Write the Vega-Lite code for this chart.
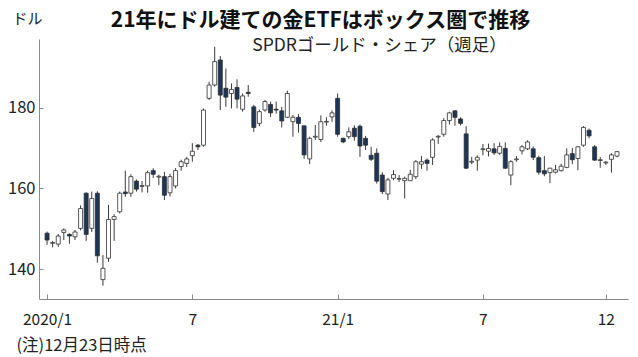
{
  "$schema": "https://vega.github.io/schema/vega-lite/v6.json",
  "width": 589,
  "height": 260,
  "autosize": "none",
  "padding": {"left": 39, "top": 39, "right": 10, "bottom": 58},
  "background": "white",
  "config": {
    "font": "Noto Sans CJK JP",
    "view": {"stroke": null},
    "axis": {"grid": false}
  },
  "title": {
    "text": "21年にドル建ての金ETFはボックス圏で推移",
    "fontSize": 21,
    "fontWeight": "bold",
    "font": "Noto Sans CJK JP",
    "color": "#111",
    "anchor": "middle",
    "frame": "group",
    "dx": -13,
    "dy": 28,
    "offset": 8
  },
  "datasets": {
    "gld": [
      {"week":"2020-01-06","open":148.9,"high":149.3,"low":146.0,"close":147.2},
      {"week":"2020-01-13","open":146.4,"high":147.0,"low":145.4,"close":146.6},
      {"week":"2020-01-20","open":146.2,"high":148.7,"low":145.5,"close":148.2},
      {"week":"2020-01-27","open":149.1,"high":150.1,"low":147.2,"close":149.7},
      {"week":"2020-02-03","open":148.6,"high":148.9,"low":146.3,"close":148.2},
      {"week":"2020-02-10","open":148.0,"high":149.7,"low":147.2,"close":149.2},
      {"week":"2020-02-17","open":150.1,"high":155.8,"low":149.6,"close":155.0},
      {"week":"2020-02-24","open":158.8,"high":159.0,"low":147.0,"close":148.6},
      {"week":"2020-03-02","open":150.1,"high":159.2,"low":149.2,"close":157.5},
      {"week":"2020-03-09","open":158.8,"high":159.3,"low":141.6,"close":143.3},
      {"week":"2020-03-16","open":137.4,"high":143.5,"low":135.9,"close":140.2},
      {"week":"2020-03-23","open":142.7,"high":155.9,"low":141.8,"close":152.3},
      {"week":"2020-03-30","open":152.3,"high":153.6,"low":147.0,"close":153.0},
      {"week":"2020-04-06","open":154.2,"high":159.2,"low":153.8,"close":158.8},
      {"week":"2020-04-13","open":159.1,"high":164.4,"low":157.9,"close":158.7},
      {"week":"2020-04-20","open":158.8,"high":163.5,"low":157.9,"close":162.9},
      {"week":"2020-04-27","open":161.8,"high":162.2,"low":159.2,"close":159.8},
      {"week":"2020-05-04","open":160.5,"high":161.8,"low":159.0,"close":160.7},
      {"week":"2020-05-11","open":160.6,"high":164.4,"low":158.9,"close":163.9},
      {"week":"2020-05-18","open":164.4,"high":165.0,"low":162.6,"close":163.5},
      {"week":"2020-05-25","open":162.8,"high":163.4,"low":160.8,"close":163.0},
      {"week":"2020-06-01","open":162.9,"high":164.1,"low":157.1,"close":158.3},
      {"week":"2020-06-08","open":158.9,"high":163.6,"low":158.0,"close":162.9},
      {"week":"2020-06-15","open":160.6,"high":165.0,"low":160.0,"close":164.4},
      {"week":"2020-06-22","open":165.4,"high":167.1,"low":164.4,"close":166.6},
      {"week":"2020-06-29","open":166.2,"high":167.8,"low":165.3,"close":167.3},
      {"week":"2020-07-06","open":168.1,"high":171.2,"low":166.6,"close":169.2},
      {"week":"2020-07-13","open":170.7,"high":171.0,"low":169.5,"close":170.3},
      {"week":"2020-07-20","open":170.7,"high":179.8,"low":170.3,"close":179.4},
      {"week":"2020-07-27","open":182.3,"high":186.4,"low":181.9,"close":185.6},
      {"week":"2020-08-03","open":185.6,"high":195.1,"low":185.2,"close":191.4},
      {"week":"2020-08-10","open":191.8,"high":192.8,"low":179.4,"close":183.1},
      {"week":"2020-08-17","open":184.8,"high":189.7,"low":180.2,"close":182.6},
      {"week":"2020-08-24","open":183.5,"high":186.0,"low":179.8,"close":184.5},
      {"week":"2020-08-31","open":185.0,"high":187.0,"low":179.8,"close":182.1},
      {"week":"2020-09-07","open":179.6,"high":183.5,"low":179.0,"close":182.9},
      {"week":"2020-09-14","open":183.8,"high":185.6,"low":182.7,"close":183.5},
      {"week":"2020-09-21","open":180.2,"high":180.7,"low":174.0,"close":175.1},
      {"week":"2020-09-28","open":176.1,"high":179.5,"low":175.4,"close":179.0},
      {"week":"2020-10-05","open":179.4,"high":181.9,"low":179.0,"close":181.5},
      {"week":"2020-10-12","open":180.8,"high":181.5,"low":177.7,"close":178.7},
      {"week":"2020-10-19","open":179.6,"high":181.5,"low":178.5,"close":179.4},
      {"week":"2020-10-26","open":179.2,"high":180.2,"low":175.1,"close":176.7},
      {"week":"2020-11-02","open":177.6,"high":184.2,"low":177.4,"close":183.5},
      {"week":"2020-11-09","open":176.5,"high":178.2,"low":172.8,"close":177.6},
      {"week":"2020-11-16","open":177.6,"high":178.4,"low":173.8,"close":176.1},
      {"week":"2020-11-23","open":175.5,"high":175.5,"low":167.3,"close":168.3},
      {"week":"2020-11-30","open":167.3,"high":172.8,"low":166.0,"close":172.4},
      {"week":"2020-12-07","open":172.7,"high":175.7,"low":172.0,"close":172.9},
      {"week":"2020-12-14","open":172.1,"high":178.1,"low":171.5,"close":176.5},
      {"week":"2020-12-21","open":176.4,"high":177.6,"low":175.5,"close":176.6},
      {"week":"2020-12-28","open":177.7,"high":179.3,"low":176.5,"close":178.7},
      {"week":"2021-01-04","open":182.3,"high":183.5,"low":172.8,"close":173.4},
      {"week":"2021-01-11","open":172.4,"high":172.6,"low":171.2,"close":171.5},
      {"week":"2021-01-18","open":172.8,"high":175.1,"low":172.2,"close":174.0},
      {"week":"2021-01-25","open":174.9,"high":175.6,"low":171.8,"close":172.8},
      {"week":"2021-02-01","open":175.4,"high":175.8,"low":167.8,"close":170.5},
      {"week":"2021-02-08","open":172.4,"high":173.0,"low":169.5,"close":170.7},
      {"week":"2021-02-15","open":168.2,"high":170.3,"low":166.8,"close":167.2},
      {"week":"2021-02-22","open":168.7,"high":169.9,"low":161.2,"close":161.8},
      {"week":"2021-03-01","open":163.3,"high":164.0,"low":158.6,"close":159.2},
      {"week":"2021-03-08","open":158.6,"high":162.6,"low":157.1,"close":162.1},
      {"week":"2021-03-15","open":162.5,"high":164.5,"low":162.0,"close":163.4},
      {"week":"2021-03-22","open":162.3,"high":163.3,"low":161.6,"close":162.4},
      {"week":"2021-03-29","open":161.9,"high":162.9,"low":157.5,"close":162.5},
      {"week":"2021-04-05","open":161.9,"high":164.6,"low":161.9,"close":163.5},
      {"week":"2021-04-12","open":162.9,"high":167.0,"low":162.3,"close":166.6},
      {"week":"2021-04-19","open":166.0,"high":168.0,"low":164.8,"close":166.6},
      {"week":"2021-04-26","open":167.0,"high":167.4,"low":164.4,"close":166.2},
      {"week":"2021-05-03","open":167.7,"high":172.4,"low":165.8,"close":172.0},
      {"week":"2021-05-10","open":172.7,"high":173.2,"low":171.0,"close":172.9},
      {"week":"2021-05-17","open":173.4,"high":177.4,"low":172.8,"close":176.8},
      {"week":"2021-05-24","open":176.8,"high":179.0,"low":175.8,"close":178.7},
      {"week":"2021-05-31","open":179.2,"high":179.4,"low":175.5,"close":177.6},
      {"week":"2021-06-07","open":177.2,"high":177.6,"low":175.6,"close":176.1},
      {"week":"2021-06-14","open":173.5,"high":175.4,"low":164.8,"close":165.0},
      {"week":"2021-06-21","open":166.5,"high":167.8,"low":166.0,"close":166.7},
      {"week":"2021-06-28","open":167.0,"high":168.2,"low":164.4,"close":167.7},
      {"week":"2021-07-05","open":169.6,"high":171.0,"low":168.2,"close":169.8},
      {"week":"2021-07-12","open":169.2,"high":171.1,"low":167.9,"close":169.9},
      {"week":"2021-07-19","open":169.8,"high":171.2,"low":168.3,"close":168.8},
      {"week":"2021-07-26","open":168.7,"high":171.4,"low":168.3,"close":170.4},
      {"week":"2021-08-02","open":169.9,"high":171.4,"low":164.8,"close":165.0},
      {"week":"2021-08-09","open":163.3,"high":167.0,"low":160.8,"close":166.6},
      {"week":"2021-08-16","open":167.1,"high":168.0,"low":166.6,"close":167.3},
      {"week":"2021-08-23","open":169.3,"high":170.7,"low":168.4,"close":170.3},
      {"week":"2021-08-30","open":169.8,"high":171.9,"low":169.5,"close":171.5},
      {"week":"2021-09-06","open":169.8,"high":170.4,"low":167.0,"close":167.7},
      {"week":"2021-09-13","open":167.6,"high":168.1,"low":163.4,"close":164.0},
      {"week":"2021-09-20","open":164.4,"high":168.0,"low":163.0,"close":163.6},
      {"week":"2021-09-27","open":163.9,"high":165.1,"low":161.3,"close":165.0},
      {"week":"2021-10-04","open":164.0,"high":165.8,"low":163.7,"close":164.6},
      {"week":"2021-10-11","open":164.4,"high":166.1,"low":164.2,"close":165.5},
      {"week":"2021-10-18","open":165.2,"high":169.9,"low":165.0,"close":168.3},
      {"week":"2021-10-25","open":168.6,"high":170.0,"low":166.0,"close":167.1},
      {"week":"2021-11-01","open":167.4,"high":170.5,"low":164.5,"close":170.3},
      {"week":"2021-11-08","open":170.7,"high":175.4,"low":170.3,"close":175.1},
      {"week":"2021-11-15","open":174.4,"high":174.8,"low":172.4,"close":173.0},
      {"week":"2021-11-22","open":170.3,"high":170.7,"low":166.8,"close":167.0},
      {"week":"2021-11-29","open":166.9,"high":167.8,"low":165.1,"close":167.1},
      {"week":"2021-12-06","open":166.3,"high":166.8,"low":165.8,"close":166.5},
      {"week":"2021-12-13","open":167.2,"high":168.7,"low":163.9,"close":168.3},
      {"week":"2021-12-20","open":168.0,"high":169.2,"low":167.7,"close":169.1}
    ],
    "sub": [
      {"label": "SPDRゴールド・シェア（週足）", "at": "2020-09-19", "level": 195.3}
    ]
  },
  "layer": [
    {
      "data": {"name": "gld"},
      "mark": {"type": "rule", "color": "#3a3a3a", "strokeWidth": 1},
      "encoding": {
        "x": {
          "field": "week",
          "type": "temporal",
          "scale": {
            "type": "utc",
            "domain": [
              {"year": 2020, "month": 1, "date": 2, "hours": 4, "utc": true},
              {"year": 2021, "month": 12, "date": 27, "hours": 12, "utc": true}
            ]
          },
          "axis": {
            "values": [
              {"year": 2020, "month": 1, "date": 6, "utc": true},
              {"year": 2020, "month": 7, "date": 6, "utc": true},
              {"year": 2021, "month": 1, "date": 4, "utc": true},
              {"year": 2021, "month": 7, "date": 5, "utc": true},
              {"year": 2021, "month": 12, "date": 6, "utc": true}
            ],
            "labelExpr": "utcmonth(datum.value) == 0 ? (utcyear(datum.value) == 2020 ? '2020/1' : '21/1') : '' + (utcmonth(datum.value) + 1)",
            "labelFontSize": 15.5,
            "labelColor": "#222",
            "labelPadding": 18,
            "labelFlush": false,
            "domainColor": "#8a8a8a",
            "tickColor": "#8a8a8a",
            "tickSize": -5,
            "title": "(注)12月23日時点",
            "titleFontSize": 16.5,
            "titleFontWeight": "normal",
            "titleColor": "#222",
            "titleAlign": "left",
            "titleAnchor": "start",
            "titleBaseline": "middle",
            "titleX": -23,
            "titleY": 46
          }
        },
        "y": {
          "field": "low",
          "type": "quantitative",
          "scale": {"domain": [132.6, 197], "nice": false, "zero": false},
          "axis": {
            "values": [140, 160, 180],
            "labelFontSize": 16.5,
            "labelColor": "#222",
            "labelPadding": 8,
            "domainColor": "#8a8a8a",
            "tickColor": "#8a8a8a",
            "tickSize": -4,
            "title": "ドル",
            "titleAngle": 0,
            "titleFontSize": 15,
            "titleFontWeight": "normal",
            "titleColor": "#222",
            "titleAlign": "center",
            "titleBaseline": "middle",
            "titleX": -12,
            "titleY": -21
          }
        },
        "y2": {"field": "high"}
      }
    },
    {
      "data": {"name": "gld"},
      "mark": {"type": "bar", "width": 4, "stroke": "#2e2e2e", "strokeWidth": 0.8},
      "encoding": {
        "x": {"field": "week", "type": "temporal"},
        "y": {"field": "open", "type": "quantitative"},
        "y2": {"field": "close"},
        "fill": {
          "condition": {"test": "datum.open > datum.close", "value": "#1d3557"},
          "value": "white"
        }
      }
    },
    {
      "data": {"name": "sub"},
      "mark": {"type": "text", "align": "left", "baseline": "middle", "fontSize": 17.5, "color": "#222"},
      "encoding": {
        "x": {"field": "at", "type": "temporal"},
        "y": {"field": "level", "type": "quantitative"},
        "text": {"field": "label"}
      }
    }
  ]
}
